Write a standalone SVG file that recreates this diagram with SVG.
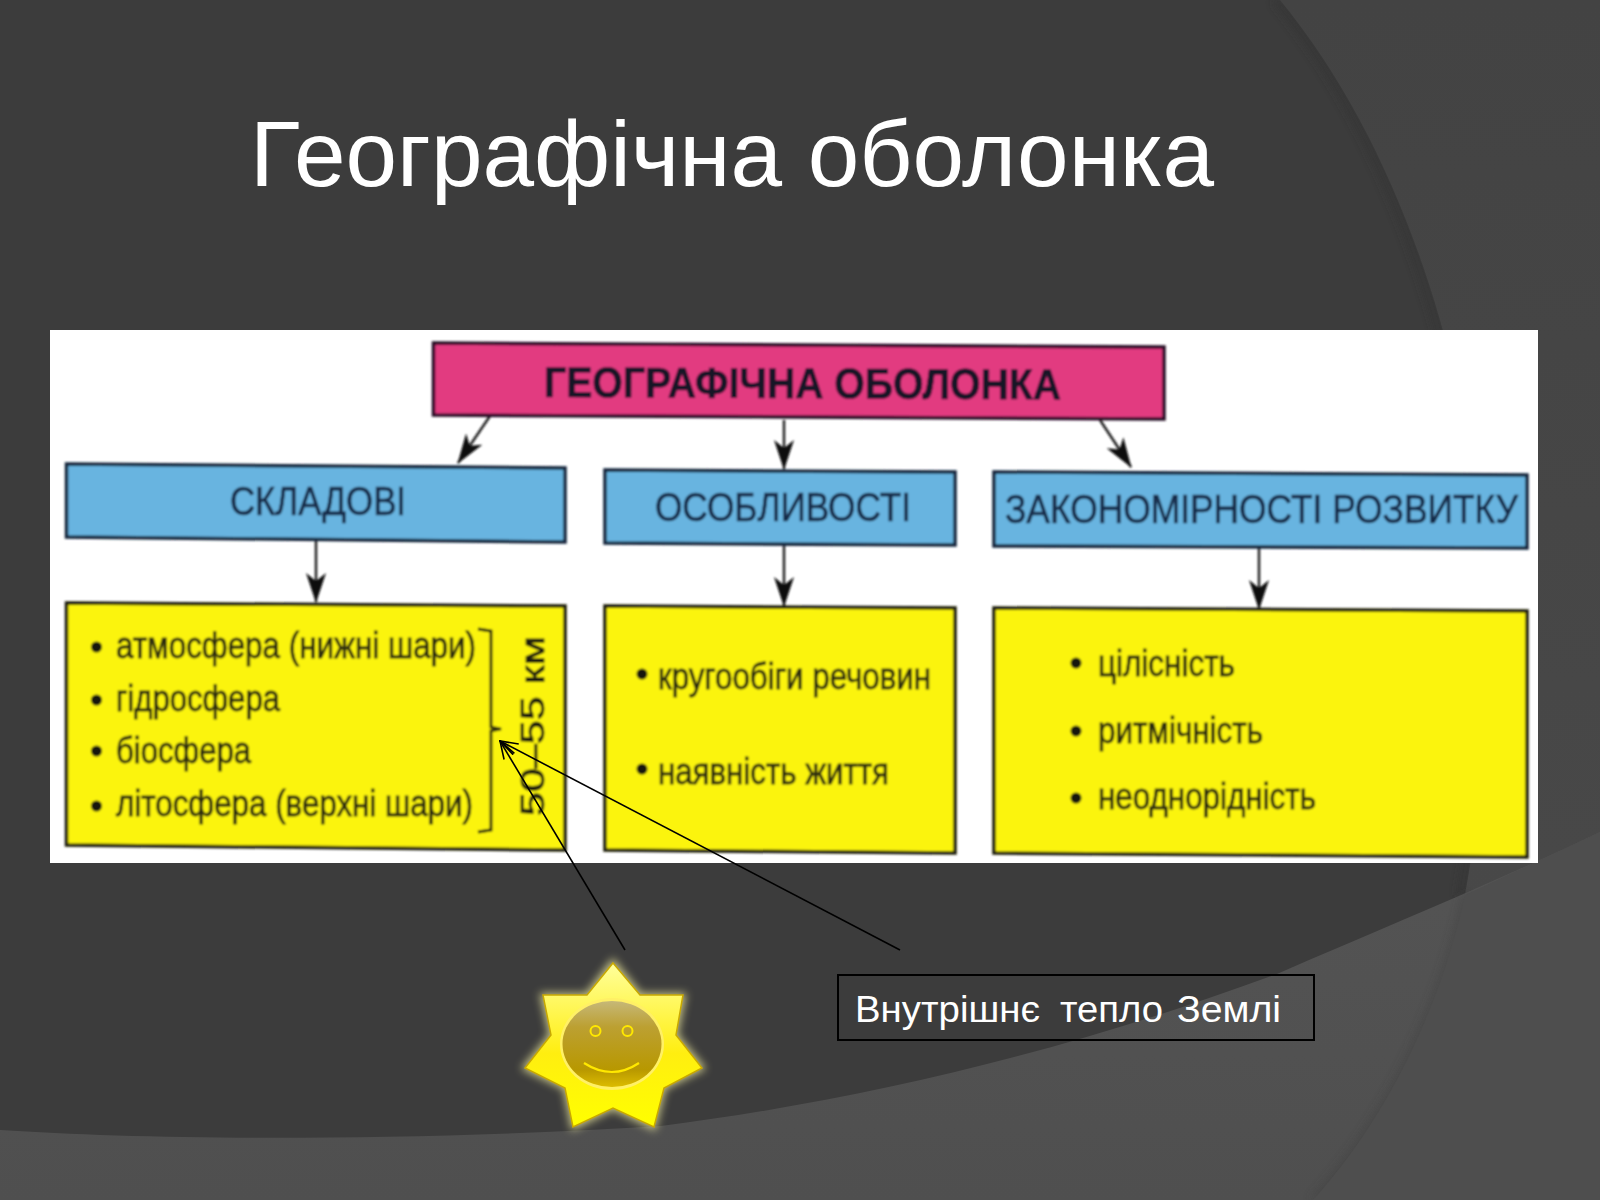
<svg xmlns="http://www.w3.org/2000/svg" width="1600" height="1200" viewBox="0 0 1600 1200">
<style>
.ff{font-family:"Liberation Sans","Noto Sans",sans-serif}
.pk{fill:#e23a80;stroke:#2a1028;stroke-width:3.5}
.bl{fill:#68b4e0;stroke:#14263c;stroke-width:3.5}
.yl{fill:#fbf40e;stroke:#1c1c08;stroke-width:3.5}
.th{fill:#182a48;font-size:41px;stroke:#182a48;stroke-width:.7}
.tl{fill:#2a2a0c;font-size:36px;stroke:#2a2a0c;stroke-width:.8}
.bu{fill:#14140a}
.ln{fill:none;stroke:#1a1a1a;stroke-width:2.4}
.cal{fill:none;stroke:#000;stroke-width:1.6}
</style>
<defs>
<linearGradient id="rg" x1="0" y1="0" x2="0" y2="1"><stop offset="0" stop-color="#434343"/><stop offset="1" stop-color="#4a4a4a"/></linearGradient>
<linearGradient id="bg" x1="0" y1="0" x2="0" y2="1"><stop offset="0" stop-color="#545454"/><stop offset="1" stop-color="#4f4f4f"/></linearGradient>
<linearGradient id="star" x1="0" y1="0" x2="0" y2="1"><stop offset="0" stop-color="#ffff9c"/><stop offset=".55" stop-color="#ffee10"/><stop offset="1" stop-color="#ffff00"/></linearGradient>
<linearGradient id="face" x1="0" y1="0" x2="0" y2="1"><stop offset="0" stop-color="#c6b878"/><stop offset=".3" stop-color="#bca032"/><stop offset=".8" stop-color="#b89800"/><stop offset="1" stop-color="#dcbc00"/></linearGradient>
<filter id="soft" x="-2%" y="-2%" width="104%" height="104%"><feGaussianBlur stdDeviation=".8"/></filter>
<filter id="sh" x="-10%" y="-10%" width="120%" height="120%"><feGaussianBlur stdDeviation="4"/></filter>
<filter id="glow" x="-20%" y="-20%" width="140%" height="140%"><feGaussianBlur stdDeviation="4"/></filter>
<marker id="dh" viewBox="0 0 30 20" refX="29" refY="10" markerWidth="30" markerHeight="20" markerUnits="userSpaceOnUse" orient="auto"><path d="M0,0 L30,10 L0,20 L8,10 Z" fill="#111"/></marker>
<marker id="oh" viewBox="0 0 20 14" refX="19" refY="7" markerWidth="20" markerHeight="14" markerUnits="userSpaceOnUse" orient="auto"><path d="M1,1 L19,7 L1,13" fill="none" stroke="#000" stroke-width="1.6"/></marker>
</defs>
<g id="background">
<rect width="1600" height="1200" fill="#3c3c3c"/>
<path id="arc-shadow" d="M1276,0 C1416,170 1482,430 1482,640 C1482,760 1471,840 1461,895" fill="none" stroke="#303030" stroke-width="7" opacity=".6" filter="url(#sh)"/>
<path d="M1280,0 C1420,170 1486,430 1486,640 C1486,760 1475,840 1465,895 C1445,990 1395,1110 1313,1200 L1600,1200 L1600,0 Z" fill="url(#rg)"/>
<path id="bottom-band" d="M0,1130 C150,1140 400,1142 661,1126 C864,1100 1072,1050 1277,974 C1390,925 1500,880 1600,832 L1600,1200 L0,1200 Z" fill="url(#bg)"/>
<path d="M1465,895 C1445,990 1395,1110 1313,1200" fill="none" stroke="#3e3e3e" stroke-width="5" opacity=".6" filter="url(#sh)"/>
<path d="M1465,895 C1445,990 1395,1110 1313,1200 L1600,1200 L1600,832 Z" fill="#4e4e4e"/>
</g>
<text id="title" class="ff" x="250" y="186" font-size="93" fill="#fff" textLength="964" lengthAdjust="spacingAndGlyphs">Географічна оболонка</text>
<rect id="panel" x="50" y="330" width="1488" height="533" fill="#fff"/>
<g filter="url(#soft)">
<g id="connectors">
<line class="ln" x1="490" y1="416" x2="458" y2="463" marker-end="url(#dh)"/>
<line class="ln" x1="784" y1="420" x2="784" y2="469" marker-end="url(#dh)"/>
<line class="ln" x1="1100" y1="420" x2="1131" y2="467" marker-end="url(#dh)"/>
<line class="ln" x1="316" y1="540" x2="316" y2="602" marker-end="url(#dh)"/>
<line class="ln" x1="784" y1="544" x2="784" y2="606" marker-end="url(#dh)"/>
<line class="ln" x1="1259" y1="548" x2="1259" y2="609" marker-end="url(#dh)"/>
</g>
<g id="node-root">
<polygon class="pk" points="433.5,343 1164,347 1164,419 433.5,415"/>
<text class="ff" x="544" y="397" font-size="43" font-weight="700" fill="#141428" stroke="#141428" stroke-width=".6" textLength="517" lengthAdjust="spacingAndGlyphs" transform="rotate(.25 544 397)">ГЕОГРАФІЧНА ОБОЛОНКА</text>
</g>
<g id="node-skladovi">
<polygon class="bl" points="66.5,464 565,468 565,542 66.5,537"/>
<text class="ff th" x="230" y="515" textLength="176" lengthAdjust="spacingAndGlyphs">СКЛАДОВІ</text>
</g>
<g id="node-osoblyvosti">
<polygon class="bl" points="605,470 955,472 955,545 605,543"/>
<text class="ff th" x="655" y="521" textLength="256" lengthAdjust="spacingAndGlyphs">ОСОБЛИВОСТІ</text>
</g>
<g id="node-zakonomirnosti">
<polygon class="bl" points="994,472 1527,475 1527,548 994,546"/>
<text class="ff th" x="1005" y="523" textLength="513" lengthAdjust="spacingAndGlyphs">ЗАКОНОМІРНОСТІ РОЗВИТКУ</text>
</g>
<g id="node-list-1">
<polygon class="yl" points="66.5,603 565,606 565,850 66.5,845"/>
<circle class="bu" cx="96.5" cy="647" r="5.5"/><text class="ff tl" x="116" y="658" textLength="360" lengthAdjust="spacingAndGlyphs">атмосфера (нижні шари)</text>
<circle class="bu" cx="96.5" cy="700" r="5.5"/><text class="ff tl" x="116" y="711" textLength="164" lengthAdjust="spacingAndGlyphs">гідросфера</text>
<circle class="bu" cx="96.5" cy="751" r="5.5"/><text class="ff tl" x="116" y="763" textLength="135" lengthAdjust="spacingAndGlyphs">біосфера</text>
<circle class="bu" cx="96.5" cy="806" r="5.5"/><text class="ff tl" x="116" y="816" textLength="357" lengthAdjust="spacingAndGlyphs">літосфера (верхні шари)</text>
<path d="M478,629 L491,631 L491,727 L501,729 L491,731 L491,830 L478,832" fill="none" stroke="#1c1c08" stroke-width="2.8"/>
<text class="ff" x="544" y="816" font-size="34" fill="#1c1c08" stroke="#1c1c08" stroke-width=".8" textLength="180" lengthAdjust="spacingAndGlyphs" transform="rotate(-90 544 816)">50–55 км</text>
</g>
<g id="node-list-2">
<polygon class="yl" points="605,606 955,608 955,853 605,850"/>
<circle class="bu" cx="642" cy="674" r="5.5"/><text class="ff tl" x="658" y="689" textLength="273" lengthAdjust="spacingAndGlyphs">кругообіги речовин</text>
<circle class="bu" cx="642" cy="769" r="5.5"/><text class="ff tl" x="658" y="784" textLength="231" lengthAdjust="spacingAndGlyphs">наявність життя</text>
</g>
<g id="node-list-3">
<polygon class="yl" points="994,608 1527,611 1527,857 994,853"/>
<circle class="bu" cx="1076" cy="663" r="5.5"/><text class="ff tl" x="1098" y="676" textLength="137" lengthAdjust="spacingAndGlyphs">цілісність</text>
<circle class="bu" cx="1076" cy="731" r="5.5"/><text class="ff tl" x="1098" y="743" textLength="165" lengthAdjust="spacingAndGlyphs">ритмічність</text>
<circle class="bu" cx="1076" cy="798" r="5.5"/><text class="ff tl" x="1098" y="809" textLength="218" lengthAdjust="spacingAndGlyphs">неоднорідність</text>
</g>
</g>
<g id="callout-connectors">
<line class="cal" x1="625" y1="950" x2="500" y2="741" marker-end="url(#oh)"/>
<line class="cal" x1="900" y1="950" x2="500" y2="741" marker-end="url(#oh)"/>
</g>
<g id="node-sun">
<polygon points="613,961 640,995 684,995 676,1035 703,1068 664,1088 654,1128 613,1108 573,1128 565,1088 524,1068 551,1035 542,995 587,995" fill="#f4f0a0" opacity=".75" filter="url(#glow)" stroke="#f4f0a0" stroke-width="4"/>
<polygon points="613,963 640,995 683,995 676,1035 702,1068 664,1088 654,1127 613,1108 573,1127 565,1088 525,1068 551,1035 543,995 587,995" fill="url(#star)" stroke="#c8a800" stroke-width="1.5"/>
<ellipse cx="612" cy="1044" rx="52" ry="46" fill="#fff066"/>
<ellipse cx="612" cy="1044" rx="49.5" ry="43" fill="url(#face)"/>
<circle cx="595.5" cy="1031" r="5" fill="none" stroke="#ffe800" stroke-width="2"/>
<circle cx="627.5" cy="1031" r="5" fill="none" stroke="#ffe800" stroke-width="2"/>
<path d="M584,1063 Q612,1081 639,1063" fill="none" stroke="#ffe800" stroke-width="2.2"/>
</g>
<g id="node-callout">
<rect x="838" y="975" width="476" height="65" fill="none" stroke="#000" stroke-width="2"/>
<text class="ff" y="1022" font-size="37" fill="#fff"><tspan x="855" textLength="185" lengthAdjust="spacingAndGlyphs">Внутрішнє</tspan> <tspan x="1060" textLength="103" lengthAdjust="spacingAndGlyphs">тепло</tspan> <tspan x="1177" textLength="104" lengthAdjust="spacingAndGlyphs">Землі</tspan></text>
</g>
</svg>
